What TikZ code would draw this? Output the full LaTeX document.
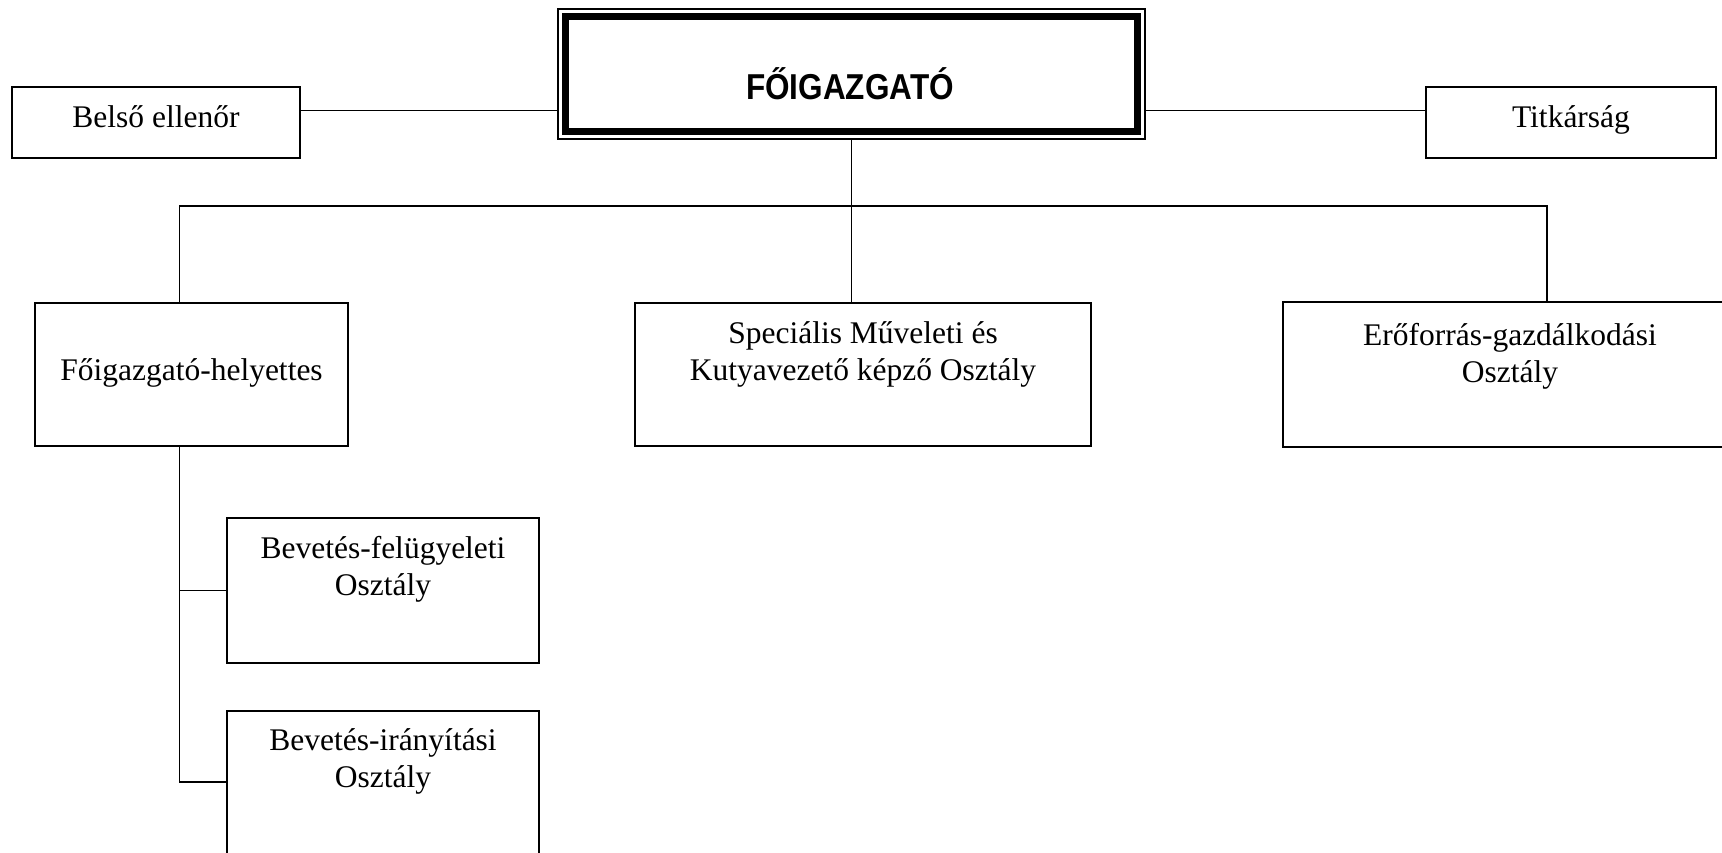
\documentclass[tikz,border=0pt]{standalone}
\usepackage{graphicx}
\usepackage{fontspec}
\setmainfont{Liberation Serif}
\newfontfamily\headfont{Liberation Sans}
\begin{document}
\begin{tikzpicture}[x=1pt,y=-1pt,
  unitbox/.style={draw, line width=1.8pt, rectangle, inner sep=0pt},
  conn/.style={line width=1.8pt},
  lbl/.style={font=\fontsize{31.5}{37.5}\selectfont, anchor=base, inner sep=0pt},
  headlbl/.style={font=\headfont\bfseries\fontsize{36}{36}\selectfont, anchor=base, inner sep=0pt}]
\clip (0,0) rectangle (1722,852);
\fill[white] (0,0) rectangle (1722,852);
% top box (double border)
\node[draw, line width=1.5pt, minimum width=587pt, minimum height=130pt, inner sep=0pt] (fo) at (851.5,74) {};
\node[draw, line width=7pt, minimum width=572pt, minimum height=115pt, inner sep=0pt] (foin) at (851.5,74) {};
\node[headlbl] (folbl) at (850,99) {\scalebox{0.875}[1]{FŐIGAZGATÓ}};
% side boxes
\node[unitbox, minimum width=288pt, minimum height=71pt] (belso) at (156,122.5) {};
\node[lbl] (belsolbl) at (156,127) {Belső ellenőr};
\node[unitbox, minimum width=290pt, minimum height=71pt] (titk) at (1571,122.5) {};
\node[lbl] (titklbl) at (1571,127) {Titkárság};
% second level
\node[unitbox, minimum width=313pt, minimum height=143pt] (hely) at (191.5,374.5) {};
\node[lbl] (helylbl) at (191.5,380) {Főigazgató-helyettes};
\node[unitbox, minimum width=456pt, minimum height=143pt] (spec) at (863,374.5) {};
\node[lbl] (speclbl) at (863,343) {\begin{tabular}[t]{@{}c@{}}Speciális Műveleti és\\Kutyavezető képző Osztály\end{tabular}};
\node[unitbox, minimum width=454pt, minimum height=145pt] (ero) at (1510,374.5) {};
\node[lbl] (erolbl) at (1510,345) {\begin{tabular}[t]{@{}c@{}}Erőforrás-gazdálkodási\\Osztály\end{tabular}};
% third level
\node[unitbox, minimum width=312pt, minimum height=145pt] (bevf) at (383,590.5) {};
\node[lbl] (bevflbl) at (383,558) {\begin{tabular}[t]{@{}c@{}}Bevetés-felügyeleti\\Osztály\end{tabular}};
\node[unitbox, minimum width=312pt, minimum height=145pt] (bevi) at (383,783.5) {};
\node[lbl] (bevilbl) at (383,750) {\begin{tabular}[t]{@{}c@{}}Bevetés-irányítási\\Osztály\end{tabular}};
% connectors
\draw[conn] ([yshift=12pt]belso.east) coordinate (pl) -- (pl -| fo.west);
\draw[conn] ([yshift=12pt]titk.west) coordinate (pr) -- (pr -| fo.east);
\draw[conn] (fo.south) -- (fo.south |- spec.north);
\coordinate (hj) at (179.5,206);
\coordinate (ej) at (1547,206);
\draw[conn] (hely.north -| hj) -- (hj) -- (ej) -- (ero.north -| ej);
\coordinate (bv) at (179.5,782);
\draw[conn] (hely.south -| bv) -- (bv) -- (bv -| bevi.west);
\draw[conn] (bevf.west) -- (bevf.west -| bv);
\end{tikzpicture}
\end{document}
